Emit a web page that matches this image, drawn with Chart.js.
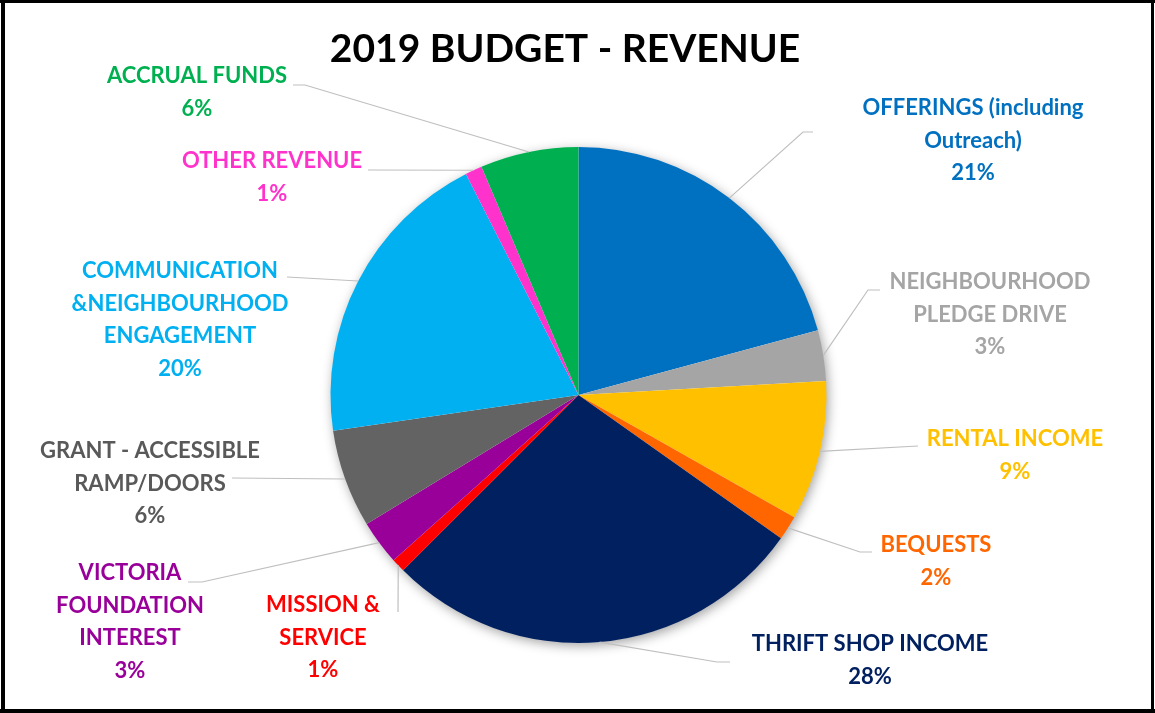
<!DOCTYPE html>
<html>
<head>
<meta charset="utf-8">
<script src="https://cdn.jsdelivr.net/npm/chart.js@4.4.1/dist/chart.umd.min.js"></script>
<style>
  html, body { margin: 0; padding: 0; background: #ffffff; }
  #wrap { width: 1155px; height: 713px; position: relative; }
</style>
</head>
<body>
<div id="wrap"><canvas id="c" width="1155" height="713"></canvas></div>
<script>
// ---- data ----
const chartTitle = '2019 BUDGET - REVENUE';
const categories = [
  ['OFFERINGS (including', 'Outreach)'],
  ['NEIGHBOURHOOD', 'PLEDGE DRIVE'],
  ['RENTAL INCOME'],
  ['BEQUESTS'],
  ['THRIFT SHOP INCOME'],
  ['MISSION &', 'SERVICE'],
  ['VICTORIA', 'FOUNDATION', 'INTEREST'],
  ['GRANT - ACCESSIBLE', 'RAMP/DOORS'],
  ['COMMUNICATION', '&NEIGHBOURHOOD', 'ENGAGEMENT'],
  ['OTHER REVENUE'],
  ['ACCRUAL FUNDS']
];
const values = [20.8, 3.3, 9.1, 1.6, 27.7, 0.9, 2.9, 6.4, 19.8, 1.1, 6.4];

// ---- styles ----
const sliceColors = ['#0070C0', '#A5A5A5', '#FFC000', '#FF6600', '#002060', '#FF0000',
                     '#990099', '#636363', '#00B0F0', '#FF33CC', '#00B050'];
const textColors  = ['#0070C0', '#A5A5A5', '#FFC000', '#FF6600', '#002060', '#FF0000',
                     '#990099', '#595959', '#00B0F0', '#FF33CC', '#00B050'];
// label block: center x, y of first line; leader: elbow points after arc point
const labelLayout = [
  { x: 973, y: 108, leader: [[803, 132], [813, 132]] },
  { x: 990, y: 282, leader: [[868, 290], [880, 290]] },
  { x: 1015, y: 439, leader: [[918, 446]] },
  { x: 936, y: 545, leader: [[860, 552], [872, 552]] },
  { x: 870, y: 644, leader: [[717, 662], [730, 662]] },
  { x: 323, y: 605, leader: [[398, 612]] },
  { x: 130, y: 573, leader: [[202, 582], [188, 582]] },
  { x: 150, y: 451, leader: [[232, 478]] },
  { x: 180, y: 271, leader: [[287, 277]] },
  { x: 272, y: 161, leader: [[368, 170]] },
  { x: 197, y: 76, leader: [[305, 85], [293, 85]] }
];
const LABEL_FONT = 'bold 22px Lato';
const LINE_H = 32.5;
const TITLE_FONT = 'bold 39px Lato';
const TITLE_POS = [565, 49];

const total = values.reduce((a, b) => a + b, 0);

const decor = {
  id: 'decor',
  beforeDatasetsDraw(chart) {
    const arc = chart.getDatasetMeta(0).data[0];
    if (!arc) return;
    const ctx = chart.ctx;
    ctx.save();
    ctx.beginPath();
    ctx.arc(arc.x, arc.y, arc.outerRadius - 0.5, 0, Math.PI * 2);
    ctx.fillStyle = '#ffffff';
    ctx.shadowColor = 'rgba(0,0,0,0.38)';
    ctx.shadowBlur = 12;
    ctx.shadowOffsetX = 2;
    ctx.shadowOffsetY = 3;
    ctx.fill();
    ctx.restore();
  },
  afterDatasetsDraw(chart) {
    const ctx = chart.ctx;
    const meta = chart.getDatasetMeta(0);
    ctx.save();
    meta.data.forEach((a, i) => {
      const mid = (a.startAngle + a.endAngle) / 2;
      const sx = a.x + Math.cos(mid) * a.outerRadius;
      const sy = a.y + Math.sin(mid) * a.outerRadius;
      const L = labelLayout[i];
      ctx.beginPath();
      ctx.moveTo(sx, sy);
      L.leader.forEach(p => ctx.lineTo(p[0], p[1]));
      ctx.strokeStyle = '#BFBFBF';
      ctx.lineWidth = 1.2;
      ctx.stroke();
      const lines = categories[i].concat([Math.round(values[i] / total * 100) + '%']);
      ctx.font = LABEL_FONT;
      ctx.fillStyle = textColors[i];
      ctx.textAlign = 'center';
      ctx.textBaseline = 'middle';
      lines.forEach((t, k) => ctx.fillText(t, L.x, L.y + k * LINE_H));
    });
    // title
    ctx.font = TITLE_FONT;
    ctx.fillStyle = '#000000';
    ctx.textAlign = 'center';
    ctx.textBaseline = 'middle';
    ctx.fillText(chartTitle, TITLE_POS[0], TITLE_POS[1]);
    // frame
    ctx.fillRect(1, 0, 4, 713);
    ctx.fillRect(0, 0, 1155, 3);
    ctx.fillRect(1151, 0, 3, 713);
    ctx.fillRect(0, 709, 1155, 4);
    ctx.restore();
  }
};

new Chart(document.getElementById('c'), {
  type: 'pie',
  data: {
    labels: categories.map(c => c.join(' ')),
    datasets: [{
      data: values,
      backgroundColor: sliceColors,
      borderWidth: 0,
      hoverOffset: 0,
      offset: 0
    }]
  },
  options: {
    responsive: false,
    animation: false,
    events: [],
    layout: { padding: { top: 147, bottom: 70, left: 200, right: 198 } },
    plugins: {
      legend: { display: false },
      tooltip: { enabled: false },
      title: { display: false }
    }
  },
  plugins: [decor]
});
</script>
</body>
</html>
